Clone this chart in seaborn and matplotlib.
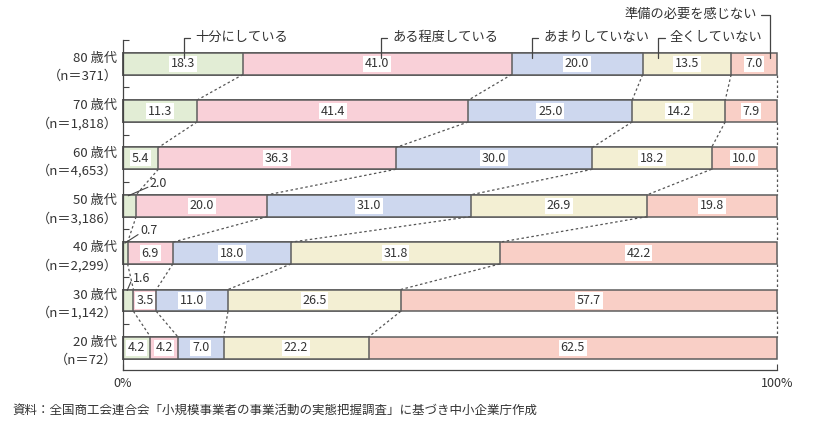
import numpy as np
import pandas as pd
import matplotlib
matplotlib.use('Agg')
import matplotlib.pyplot as plt
import seaborn as sns

# ---- data ----
ages = ['80 歳代', '70 歳代', '60 歳代', '50 歳代', '40 歳代', '30 歳代', '20 歳代']
counts = ['371', '1,818', '4,653', '3,186', '2,299', '1,142', '72']
categories = ['十分にしている', 'ある程度している', 'あまりしていない', '全くしていない', '準備の必要を感じない']
sufficient = [18.3, 11.3, 5.4, 2.0, 0.7, 1.6, 4.2]
somewhat = [41.0, 41.4, 36.3, 20.0, 6.9, 3.5, 4.2]
little = [20.0, 25.0, 30.0, 31.0, 18.0, 11.0, 7.0]
not_at_all = [13.5, 14.2, 18.2, 26.9, 31.8, 26.5, 22.2]
no_need = [7.0, 7.9, 10.0, 19.8, 42.2, 57.7, 62.5]
x_ticks = [0, 100]
x_ticklabels = ['0%', '100%']
source = '資料：全国商工会連合会「小規模事業者の事業活動の実態把握調査」に基づき中小企業庁作成'

# ---- style ----
colors = ['#e2edd5', '#f9d0d8', '#cdd7ee', '#f3efd3', '#f9cfc6']
edge = '#5e5e5e'
txt = '#333333'

sns.set_theme(style='white')
plt.rcParams['font.family'] = ['Noto Sans CJK JP', 'DejaVu Sans']

vals = np.array([sufficient, somewhat, little, not_at_all, no_need])
tot = vals.sum(axis=0)
cum = np.cumsum(vals, axis=0) / tot * 100
left = cum - vals / tot * 100
ylabels = [f'{a}\n（n＝{c}）' for a, c in zip(ages, counts)]

fig = plt.figure(figsize=(8.15, 4.4), dpi=100)
ax = fig.add_axes([123 / 815, 70 / 440, 654 / 815, 330 / 440])
H = 0.46

for k in range(4, -1, -1):
    df = pd.DataFrame({'age': ylabels, 'right': cum[k]})
    sns.barplot(data=df, x='right', y='age', orient='h', color=colors[k],
                saturation=1, width=H, edgecolor=edge, linewidth=1.1, ax=ax)
for p in ax.patches:
    p.set_clip_on(False)

# dashed connectors
n = len(ages)
for i in range(n - 1):
    for k in range(5):
        ax.plot([cum[k, i], cum[k, i + 1]], [i + H / 2, i + 1 - H / 2],
                ls=(0, (2, 2)), color='#555555', lw=0.9, zorder=1, clip_on=False)

# value labels
outside_dx = {3: 2.1, 4: 1.9, 5: -0.1}
for k in range(5):
    for i in range(n):
        v = vals[k, i]
        if v >= 3:
            ax.text(left[k, i] + (cum[k, i] - left[k, i]) / 2, i, f'{v:.1f}',
                    ha='center', va='center', fontsize=9, color=txt, zorder=5,
                    bbox=dict(facecolor='white', edgecolor='none', pad=1.2))
        else:
            xt = cum[k, i] + outside_dx.get(i, 1.5)
            yt = i - 0.47
            ax.text(xt, yt, f'{v:.1f}', ha='left', va='center', fontsize=9,
                    color=txt, zorder=5)
            ax.plot([cum[k, i] * 0.4, xt - 0.3], [i - H / 2 + 0.02, yt + 0.08],
                    color='#444444', lw=0.8, clip_on=False)

# callouts (legend)
callout_x = [9.3, 39.4, 62.5, 81.8, 98.9]
for k in range(4):
    bx = callout_x[k]
    ty = -0.55
    ax.plot([bx + 1.0, bx, bx], [ty, ty, -0.12], color='#444444', lw=0.9,
            clip_on=False, zorder=6)
    ax.text(bx + 1.8, ty, categories[k], ha='left', va='center', fontsize=9.5,
            color=txt)
bx = callout_x[4]
ty = -1.035
ax.plot([bx - 1.3, bx, bx], [ty, ty, -0.12], color='#444444', lw=0.9,
        clip_on=False, zorder=6)
ax.text(bx - 2.0, ty, categories[4], ha='right', va='center', fontsize=9.5,
        color=txt)

# axes
ax.set_xlim(0, 100)
ax.set_ylim(6.47, -0.5)
ax.set_xlabel('')
ax.set_ylabel('')
ax.set_xticks(x_ticks)
ax.set_xticklabels(x_ticklabels, fontsize=9, color=txt)
ax.tick_params(axis='x', direction='in', length=4, width=0.8, color='#444444', pad=5, bottom=True)
ax.set_yticks(range(n))
ax.set_yticklabels(ylabels, fontsize=9.5, color=txt, linespacing=1.45)
ax.tick_params(axis='y', which='major', length=0, pad=4)
ax.set_yticks(np.arange(-0.5, n - 0.5, 1), minor=True)
ax.tick_params(axis='y', which='minor', direction='in', length=4, width=0.8,
               color='#444444', left=True)
for s in ['top', 'right']:
    ax.spines[s].set_visible(False)
for s in ['left', 'bottom']:
    ax.spines[s].set_color('#444444')
    ax.spines[s].set_linewidth(0.9)

fig.text(12 / 815, 1 - 410 / 440, source, ha='left', va='center', fontsize=9, color=txt)

fig.savefig('out.png', dpi=100)
